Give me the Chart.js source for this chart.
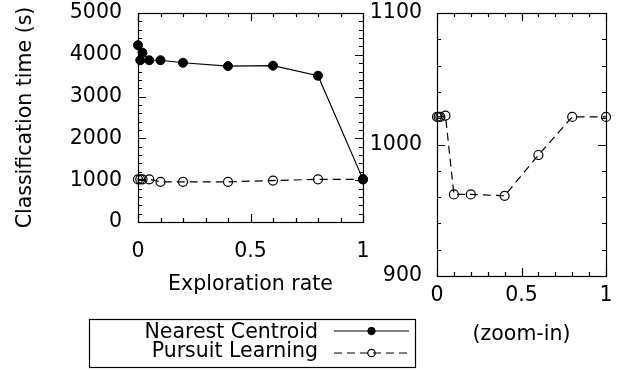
<!DOCTYPE html>
<html>
<head>
<meta charset="utf-8">
<script src="https://cdn.jsdelivr.net/npm/chart.js@4"></script>
<style>
    html, body { margin: 0; padding: 0; background: #fff; }
    #wrap { position: relative; width: 630px; height: 371px; }
    #wrap canvas { position: absolute; left: 0; top: 0; }
</style>
</head>
<body>
<div id="wrap">
    <canvas id="mainChart" width="630" height="371"></canvas>
    <canvas id="zoomChart" width="630" height="371"></canvas>
</div>
<script>
// exploration rate vs classification time (s)
const explorationRates = [0, 0.01, 0.02, 0.05, 0.1, 0.2, 0.4, 0.6, 0.8, 1];
const nearestCentroid = [4230, 3870, 4050, 3870, 3870, 3810, 3730, 3740, 3500, 1020];
const pursuitLearning = [1021, 1021, 1021, 1022, 962, 962, 961, 992, 1021, 1021];
const seriesNames = ['Nearest Centroid', 'Pursuit Learning'];

const mainXTicks = [0, 0.5, 1];
const mainYTicks = [0, 1000, 2000, 3000, 4000, 5000];
const zoomXTicks = [0, 0.5, 1];
const zoomYTicks = [900, 1000, 1100];

const baseFont = { family: "'DejaVu Sans', sans-serif", size: 20.5, lineHeight: 1.2 };

// gnuplot-like frame with inward major/minor ticks on all four sides
const frameTicks = {
    id: 'frameTicks',
    beforeDatasetsDraw(chart, args, opts) {
        const ctx = chart.ctx;
        const { left, right, top, bottom } = chart.chartArea;
        const xs = chart.scales.x;
        const ys = chart.scales.y;

        const withMinor = (major, n) => {
            const out = [];
            major.forEach((v, i) => {
                out.push({ v, len: 8 });
                if (i < major.length - 1) {
                    for (let k = 1; k < n; k++) {
                        out.push({ v: v + (major[i + 1] - v) * k / n, len: 4 });
                    }
                }
            });
            return out;
        };

        ctx.save();
        ctx.strokeStyle = '#000';
        ctx.lineWidth = 1.2;
        ctx.strokeRect(left + 0.5, top + 0.5, right - left, bottom - top);

        ctx.beginPath();
        withMinor(opts.xMajor, opts.minor).forEach(t => {
            const px = Math.round(xs.getPixelForValue(t.v)) + 0.5;
            ctx.moveTo(px, bottom);
            ctx.lineTo(px, bottom - t.len);
            ctx.moveTo(px, top);
            ctx.lineTo(px, top + t.len);
        });
        withMinor(opts.yMajor, opts.minor).forEach(t => {
            const py = Math.round(ys.getPixelForValue(t.v)) + 0.5;
            ctx.moveTo(left, py);
            ctx.lineTo(left + t.len, py);
            ctx.moveTo(right, py);
            ctx.lineTo(right - t.len, py);
        });
        ctx.stroke();
        ctx.restore();
    }
};

// boxed key below the main plot, text right aligned with line samples
const keyBox = {
    id: 'keyBox',
    afterDraw(chart, args, opts) {
        const ctx = chart.ctx;
        const b = opts.box;
        ctx.save();
        ctx.strokeStyle = '#000';
        ctx.lineWidth = 1.2;
        ctx.strokeRect(b.left + 0.5, b.top + 0.5, b.width, b.height);

        ctx.font = `${baseFont.size}px ${baseFont.family}`;
        ctx.fillStyle = '#000';
        ctx.textAlign = 'right';
        ctx.textBaseline = 'alphabetic';

        chart.data.datasets.forEach((ds, i) => {
            const row = opts.rows[i];
            ctx.fillText(ds.label, opts.textRight, row.baseline);

            ctx.beginPath();
            ctx.setLineDash(ds.borderDash || []);
            ctx.lineWidth = ds.borderWidth;
            ctx.strokeStyle = ds.borderColor;
            ctx.moveTo(opts.sampleFrom, row.lineY);
            ctx.lineTo(opts.sampleTo, row.lineY);
            ctx.stroke();
            ctx.setLineDash([]);

            const mx = (opts.sampleFrom + opts.sampleTo) / 2;
            ctx.beginPath();
            ctx.arc(mx, row.lineY, ds.pointRadius - 0.8, 0, Math.PI * 2);
            if (ds.pointBackgroundColor !== 'rgba(0,0,0,0)') {
                ctx.fillStyle = ds.pointBackgroundColor;
                ctx.fill();
                ctx.fillStyle = '#000';
            }
            ctx.lineWidth = ds.pointBorderWidth;
            ctx.strokeStyle = ds.pointBorderColor;
            ctx.stroke();
        });
        ctx.restore();
    }
};

function toPoints(xs, ys) {
    return xs.map((x, i) => ({ x, y: ys[i] }));
}

const centroidStyle = {
    borderColor: '#000',
    borderWidth: 1.2,
    pointRadius: 4.5,
    pointBackgroundColor: '#000',
    pointBorderColor: '#000',
    pointBorderWidth: 1,
    tension: 0,
    clip: false
};

const pursuitStyle = {
    borderColor: '#000',
    borderWidth: 1.2,
    borderDash: [8, 5],
    pointRadius: 4.5,
    pointBackgroundColor: 'rgba(0,0,0,0)',
    pointBorderColor: '#000',
    pointBorderWidth: 1.2,
    tension: 0,
    clip: false
};

function axis(opts) {
    return {
        type: 'linear',
        min: opts.min,
        max: opts.max,
        afterBuildTicks: s => { s.ticks = opts.ticks.map(v => ({ value: v })); },
        afterFit: s => {
            opts.fit(s);
            // keep label overflow from pushing the plot area around
            s.paddingTop = 0;
            s.paddingBottom = 0;
            s.paddingLeft = 0;
            s.paddingRight = 0;
        },
        grid: { display: false, drawTicks: false },
        border: { display: false },
        ticks: {
            color: '#000',
            font: baseFont,
            padding: opts.tickPad,
            maxRotation: 0,
            autoSkip: false,
            callback: v => String(v)
        },
        title: {
            display: !!opts.title,
            text: opts.title || '',
            color: '#000',
            font: baseFont,
            padding: opts.titlePad || 0
        }
    };
}

new Chart(document.getElementById('mainChart'), {
    type: 'line',
    data: {
        datasets: [
            Object.assign({ label: seriesNames[0], data: toPoints(explorationRates, nearestCentroid) }, centroidStyle),
            Object.assign({ label: seriesNames[1], data: toPoints(explorationRates, pursuitLearning) }, pursuitStyle)
        ]
    },
    options: {
        responsive: false,
        animation: false,
        devicePixelRatio: 1,
        layout: { padding: { left: 0, top: 13, right: 267, bottom: 0 } },
        plugins: {
            legend: { display: false },
            tooltip: { enabled: false },
            frameTicks: { xMajor: mainXTicks, yMajor: mainYTicks, minor: 5 },
            keyBox: {
                box: { left: 89, top: 319, width: 326, height: 48 },
                textRight: 318,
                sampleFrom: 334,
                sampleTo: 409,
                rows: [{ baseline: 338, lineY: 331 }, { baseline: 357, lineY: 353 }]
            }
        },
        scales: {
            x: axis({
                min: 0, max: 1, ticks: mainXTicks, tickPad: 17,
                fit: s => { s.height = 149; },
                title: 'Exploration rate', titlePad: { top: 0, bottom: 74 }
            }),
            y: axis({
                min: 0, max: 5000, ticks: mainYTicks, tickPad: 16,
                fit: s => { s.width = 138; },
                title: 'Classification time (s)', titlePad: { top: 13, bottom: 0 }
            })
        }
    },
    plugins: [frameTicks, keyBox]
});

new Chart(document.getElementById('zoomChart'), {
    type: 'line',
    data: {
        datasets: [
            Object.assign({ label: seriesNames[1], data: toPoints(explorationRates, pursuitLearning) }, pursuitStyle)
        ]
    },
    options: {
        responsive: false,
        animation: false,
        devicePixelRatio: 1,
        layout: { padding: { left: 0, top: 13, right: 24, bottom: 0 } },
        plugins: {
            legend: { display: false },
            tooltip: { enabled: false },
            frameTicks: { xMajor: zoomXTicks, yMajor: zoomYTicks, minor: 5 }
        },
        scales: {
            x: axis({
                min: 0, max: 1, ticks: zoomXTicks, tickPad: 7,
                fit: s => { s.height = 95; },
                title: '(zoom-in)', titlePad: { top: 0, bottom: 24 }
            }),
            y: axis({
                min: 900, max: 1100, ticks: zoomYTicks, tickPad: 15,
                fit: s => { s.width = 437; }
            })
        }
    },
    plugins: [frameTicks]
});
</script>
</body>
</html>
